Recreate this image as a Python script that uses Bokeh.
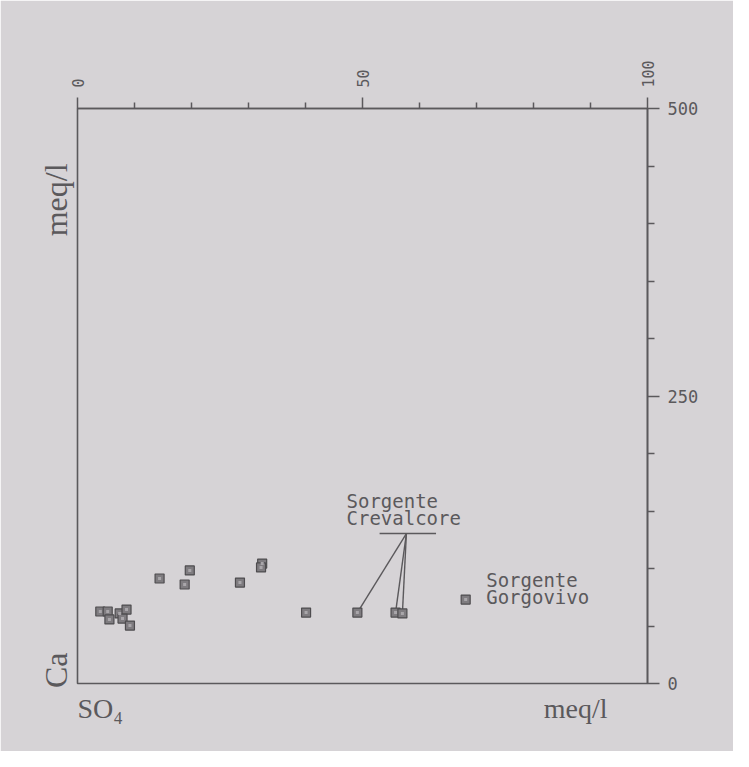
from math import pi
from bokeh.plotting import figure
from bokeh.models import Range1d, FixedTicker, Label, ColumnDataSource, LinearAxis
from bokeh.embed import file_html
from bokeh.resources import INLINE

# ---- data: SO4 (meq/l) on x, Ca (meq/l) on y ----
so4 = [4.0, 5.3, 5.6, 7.4, 8.6, 7.9, 9.2, 14.4, 19.7, 18.8, 28.5, 32.4, 32.2,
       40.1, 49.1, 55.8, 57.0, 68.1]
ca = [62.6, 62.6, 55.7, 60.9, 64.3, 56.5, 50.4, 91.3, 98.3, 86.1, 87.8, 104.3,
      100.9, 61.7, 61.7, 61.7, 60.9, 73.0]
crevalcore_idx = [14, 15, 16]          # points labelled "Sorgente Crevalcore"
gorgovivo_idx = 17                     # point labelled "Sorgente Gorgovivo"

x_major = [0, 50, 100]
x_minor = [10, 20, 30, 40, 60, 70, 80, 90]
y_major = [0, 250, 500]
y_minor = [50, 100, 150, 200, 300, 350, 400, 450]

# axis titles placed along the bottom and left edges
bottom_titles = {4.0: "SO₄", 87.4: "meq/l"}
left_titles = {27.0: "Ca", 452.2: "meq/l"}

# callout geometry (data units)
crev_bar_x = [53.0, 62.9]
crev_bar_y = 130.4
crev_anchor_x = 57.7

BG = "#d6d3d6"
INK = "#5b595c"
MONO = "DejaVu Sans Mono"
SERIF = "Liberation Serif"

W, H = 733, 751
p = figure(width=W, height=H, output_backend="svg", toolbar_location=None,
           x_range=Range1d(0, 100), y_range=Range1d(0, 500),
           x_axis_location="above", y_axis_location="right",
           min_border_left=77, min_border_right=W - 647,
           min_border_top=108, min_border_bottom=H - 683)
p.background_fill_color = BG
p.border_fill_color = BG
p.outline_line_color = INK
p.outline_line_width = 1.6
p.grid.visible = False

xa = p.xaxis[0]
xa.ticker = FixedTicker(ticks=x_major, minor_ticks=x_minor)
xa.major_label_orientation = pi / 2
xa.major_tick_out = 11
xa.major_tick_in = 0
xa.minor_tick_out = 6
xa.minor_tick_in = 0
xa.major_label_standoff = 10
xa.axis_line_color = INK
xa.axis_line_width = 1.6
xa.major_tick_line_color = INK
xa.minor_tick_line_color = INK
xa.major_tick_line_width = 1.5
xa.minor_tick_line_width = 1.5
xa.major_label_text_font = MONO
xa.major_label_text_font_size = "15px"
xa.major_label_text_color = INK

ya = p.yaxis[0]
ya.ticker = FixedTicker(ticks=y_major, minor_ticks=y_minor)
ya.major_tick_out = 12
ya.major_tick_in = 0
ya.minor_tick_out = 7
ya.minor_tick_in = 0
ya.major_label_standoff = 8
ya.axis_line_color = INK
ya.axis_line_width = 1.6
ya.major_tick_line_color = INK
ya.minor_tick_line_color = INK
ya.major_tick_line_width = 1.5
ya.minor_tick_line_width = 1.5
ya.major_label_text_font = MONO
ya.major_label_text_font_size = "17px"
ya.major_label_text_color = INK


def title_axis(ticks_map, orientation, standoff, size):
    ax = LinearAxis(ticker=FixedTicker(ticks=list(ticks_map.keys()), minor_ticks=[]),
                    major_label_overrides={k: v for k, v in ticks_map.items()})
    ax.axis_line_color = None
    ax.major_tick_line_color = None
    ax.minor_tick_line_color = None
    ax.major_tick_out = 0
    ax.major_tick_in = 0
    ax.major_label_standoff = standoff
    ax.major_label_orientation = orientation
    ax.major_label_text_font = SERIF
    ax.major_label_text_font_size = size
    ax.major_label_text_color = INK
    return ax


p.add_layout(title_axis(bottom_titles, "horizontal", 9, "28px"), "below")
p.add_layout(title_axis(left_titles, pi / 2, 21, "32px"), "left")

# callout lines for Crevalcore
p.segment(x0=crev_bar_x[0], y0=crev_bar_y, x1=crev_bar_x[1], y1=crev_bar_y,
          line_color=INK, line_width=1.5)
p.segment(x0=[crev_anchor_x] * len(crevalcore_idx),
          y0=[crev_bar_y] * len(crevalcore_idx),
          x1=[so4[i] for i in crevalcore_idx],
          y1=[ca[i] for i in crevalcore_idx],
          line_color=INK, line_width=1.4)

src = ColumnDataSource(dict(x=so4, y=ca))
p.scatter("x", "y", source=src, marker="square", size=9,
          fill_color="#7f7c80", line_color="#4e4c4f", line_width=1.2)
p.scatter("x", "y", source=src, marker="square", size=3,
          fill_color="#a9a6aa", line_color=None)


def lab(x, y, text):
    p.add_layout(Label(x=x, y=y, text=text, text_font=MONO,
                       text_font_size="19px", text_color=INK,
                       text_align="left", text_baseline="middle"))


lab(47.2, 159.1, "Sorgente")
lab(47.2, 143.5, "Crevalcore")
lab(71.7, 89.6, "Sorgente")
lab(71.7, 74.8, "Gorgovivo")

open("out.html", "w").write(file_html(p, INLINE))
